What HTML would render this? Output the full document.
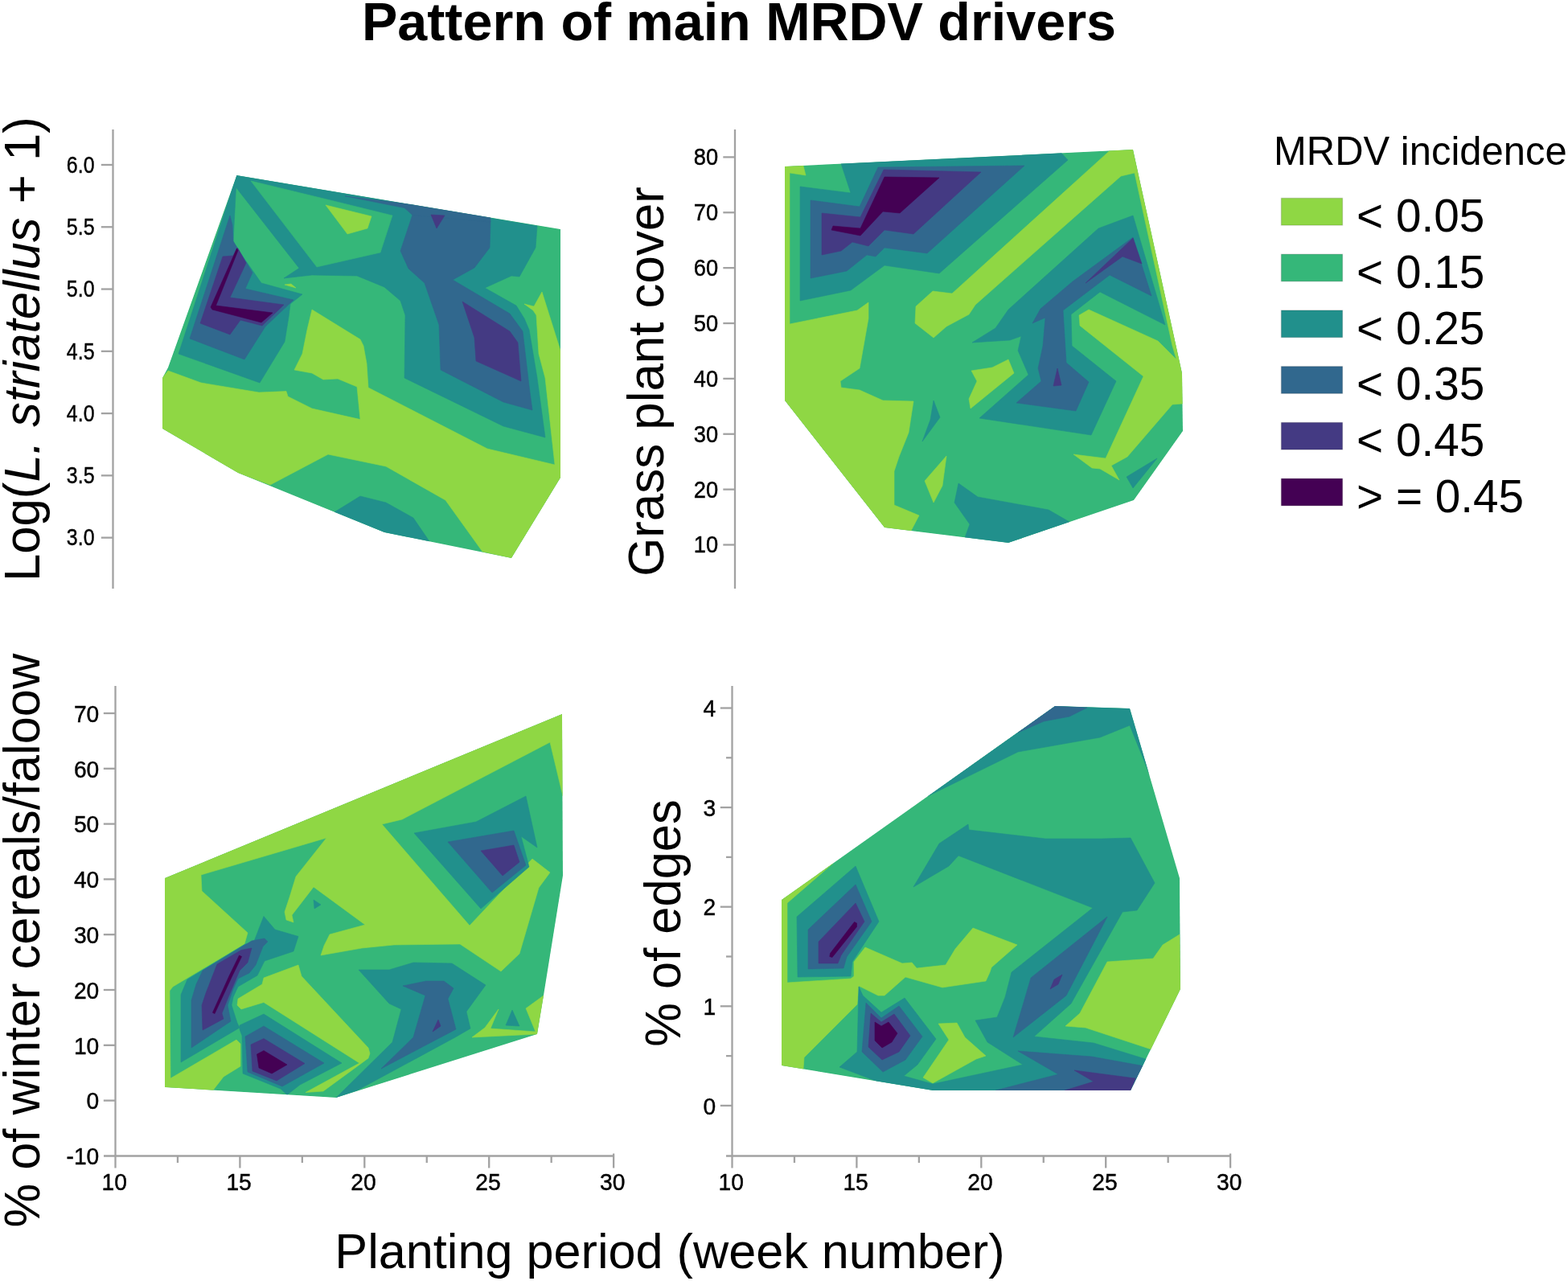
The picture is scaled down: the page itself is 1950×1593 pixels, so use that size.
<!DOCTYPE html>
<html lang="en"><head><meta charset="utf-8"><title>Pattern of main MRDV drivers</title>
<style>
html,body{margin:0;padding:0;background:#fff;}
body{width:1950px;height:1593px;overflow:hidden;}
svg{display:block;font-family:"Liberation Sans",Arial,Helvetica,sans-serif;}
.ax line{stroke:#a2a2a2;stroke-width:2.3;}
.tk{fill:#000;stroke:#000;stroke-width:0.45px;}
.lab{fill:#000;}
</style></head><body>
<svg width="1950" height="1593" viewBox="0 0 1950 1593">
<rect width="1950" height="1593" fill="#fff"/>
<text class="lab" font-size="67.3" font-weight="bold" text-anchor="middle" transform="translate(919,50.2) scale(0.988,1)">Pattern of main MRDV drivers</text>
<text class="lab" font-size="50.4" transform="translate(1584,204.6) scale(0.972,1)">MRDV incidence</text>
<rect x="1593.4" y="246.4" width="76.2" height="33.7" fill="#8fd744" stroke="#000" stroke-opacity="0.13" stroke-width="1.4"/>
<text class="lab" font-size="57.6" transform="translate(1687,288) scale(0.985,1)">&lt; 0.05</text>
<rect x="1593.4" y="316.15" width="76.2" height="33.7" fill="#35b779" stroke="#000" stroke-opacity="0.13" stroke-width="1.4"/>
<text class="lab" font-size="57.6" transform="translate(1687,357.75) scale(0.985,1)">&lt; 0.15</text>
<rect x="1593.4" y="385.9" width="76.2" height="33.7" fill="#21908c" stroke="#000" stroke-opacity="0.13" stroke-width="1.4"/>
<text class="lab" font-size="57.6" transform="translate(1687,427.5) scale(0.985,1)">&lt; 0.25</text>
<rect x="1593.4" y="455.65" width="76.2" height="33.7" fill="#31688e" stroke="#000" stroke-opacity="0.13" stroke-width="1.4"/>
<text class="lab" font-size="57.6" transform="translate(1687,497.25) scale(0.985,1)">&lt; 0.35</text>
<rect x="1593.4" y="525.4" width="76.2" height="33.7" fill="#443a83" stroke="#000" stroke-opacity="0.13" stroke-width="1.4"/>
<text class="lab" font-size="57.6" transform="translate(1687,567) scale(0.985,1)">&lt; 0.45</text>
<rect x="1593.4" y="595.15" width="76.2" height="33.7" fill="#440154" stroke="#000" stroke-opacity="0.13" stroke-width="1.4"/>
<text class="lab" font-size="57.6" transform="translate(1687,636.75) scale(0.985,1)">&gt; = 0.45</text>
<text class="lab" font-size="62.8" text-anchor="middle" transform="translate(49,434.1) rotate(-90) scale(0.983,1)">Log(<tspan font-style="italic">L. striatellus</tspan> + 1)</text>
<text class="lab" font-size="62.8" text-anchor="middle" transform="translate(825.3,474.5) rotate(-90) scale(0.985,1)">Grass plant cover</text>
<text class="lab" font-size="62.8" text-anchor="middle" transform="translate(49,1169.6) rotate(-90) scale(0.979,1)">% of winter cereals/faloow</text>
<text class="lab" font-size="62.8" text-anchor="middle" transform="translate(845.5,1148) rotate(-90) scale(0.979,1)">% of edges</text>
<text class="lab" x="833" y="1577" font-size="61.2" text-anchor="middle">Planting period (week number)</text>
<clipPath id="h0"><polygon points="294.4,218 697,285 697,594 636,694 478,662 296,588 202,533 202,470 209,457"/></clipPath>
<g clip-path="url(#h0)"><polygon fill="#35b779" points="294.4,218 697,285 697,594 636,694 478,662 296,588 202,533 202,470 209,457" stroke="#35b779" stroke-width="0.6" stroke-linejoin="round"/>
<polygon fill="#8fd744" points="202,470 209,461 250,476 322,488 356,486.6 358,493 388,508 448,521.6 444,481 420,471 402,472 388,464 366,460 376,440 382,410 388,385 448,422 452,430 456,452 458,482 606,558 690,578 678,470 670,440 667,392 663,386 652,378 664,381 674,363 697,436 697,594 636,694 600,686 554,622 480,580 408,565 336,603 296,588 202,533" stroke="#8fd744" stroke-width="0.6" stroke-linejoin="round"/>
<polygon fill="#8fd744" points="354,354 362,353 368,358" stroke="#8fd744" stroke-width="0.6" stroke-linejoin="round"/>
<polygon fill="#21908c" points="416,636.8 448,617 480,625 514,644 534,673.3 478,662" stroke="#21908c" stroke-width="0.6" stroke-linejoin="round"/>
<polygon fill="#21908c" points="294.4,218 668,281 666,308 646,344 636,343 603,358 642,380 652,396 658,410 668,470 678,544 626,530 503,470 504,392 498,374 478,357 444,343 388,342 353,346 372,333.5 293.5,233" stroke="#21908c" stroke-width="0.6" stroke-linejoin="round"/>
<polygon fill="#35b779" points="312,225 415,250 488,268 473,314 394,332" stroke="#35b779" stroke-width="0.6" stroke-linejoin="round"/>
<polygon fill="#8fd744" points="405,255 462,269 457,284 432,291" stroke="#8fd744" stroke-width="0.6" stroke-linejoin="round"/>
<polygon fill="#21908c" points="294.4,218 293.5,233 290,300 295,309 325,352 376,366 361,378 359,394 354,425 323,476 222,440" stroke="#21908c" stroke-width="0.6" stroke-linejoin="round"/>
<polygon fill="#31688e" points="513,267 610,275 609,308 590,333 563,348 634,390 650,412 658,480 662,510 626,500 548,460 546,404 528,352 508,334 498,312" stroke="#31688e" stroke-width="0.6" stroke-linejoin="round"/>
<polygon fill="#31688e" points="429,243.8 513,254.4 610,270.6 610,276 513,267.5 503,258.6" stroke="#31688e" stroke-width="0.6" stroke-linejoin="round"/>
<polygon fill="#443a83" points="536,267 553,268 543,284" stroke="#443a83" stroke-width="0.6" stroke-linejoin="round"/>
<polygon fill="#443a83" points="575,375 634,412 644,426 648,474 592,449 590,420" stroke="#443a83" stroke-width="0.6" stroke-linejoin="round"/>
<polygon fill="#31688e" points="286,268 236,421 304,447 330,406 365,373 305,359 314,339 295,308 290,300 289,280" stroke="#31688e" stroke-width="0.6" stroke-linejoin="round"/>
<polygon fill="#443a83" points="295,308 290,318 277,319 249,402 286,416 299,398 326,405 353,379 286,370 306,327 296,309" stroke="#443a83" stroke-width="0.6" stroke-linejoin="round"/>
<polygon fill="#440154" points="294.5,309 262,382 264,385 325,401 339,389 268.5,380 296,311.5" stroke="#440154" stroke-width="0.6" stroke-linejoin="round"/></g>
<clipPath id="h1"><polygon points="976,207 1409,186 1470,464 1471,536 1410,622 1254,675 1100,656 976,498"/></clipPath>
<g clip-path="url(#h1)"><polygon fill="#35b779" points="976,207 1409,186 1470,464 1471,536 1410,622 1254,675 1100,656 976,498" stroke="#35b779" stroke-width="0.6" stroke-linejoin="round"/>
<polygon fill="#8fd744" points="976,207 999,206 1002,218 982,215 982,403 1066,386 1080,376 1080,396 1074,430 1069,458 1045,474 1046,482 1069,485 1098,498 1136,499 1130,538 1118,568 1112,586 1112,628 1143,641 1133,660 1100,656 976,498" stroke="#8fd744" stroke-width="0.6" stroke-linejoin="round"/>
<polygon fill="#8fd744" points="1160,362 1184,365 1380,187.4 1409,186 1470,464 1471,502 1458,503 1402,568 1382,579 1392,597 1368,583 1358,582 1335,565 1375,570 1422,468 1343,405 1342,392 1354,385 1440,424 1463,447 1458,430 1411,215 1394,219 1213,379 1205,391 1177,406 1161,420 1138,402 1139,381" stroke="#8fd744" stroke-width="0.6" stroke-linejoin="round"/>
<polygon fill="#8fd744" points="1208,461 1234,457 1254,447 1261,464 1207,508 1205,496 1215,474" stroke="#8fd744" stroke-width="0.6" stroke-linejoin="round"/>
<polygon fill="#8fd744" points="1177,567 1172,604 1161,625 1150,598" stroke="#8fd744" stroke-width="0.6" stroke-linejoin="round"/>
<polygon fill="#21908c" points="1046,203.6 1320,190.3 1328,199 1168,340 1100,330 1058,361 995,374 995,232 1058,240" stroke="#21908c" stroke-width="0.6" stroke-linejoin="round"/>
<polygon fill="#31688e" points="1092,208 1274,206 1153,315 1100,308 1089,319 1078,317 1053,337 1008,346 1008,249 1069,257" stroke="#31688e" stroke-width="0.6" stroke-linejoin="round"/>
<polygon fill="#443a83" points="1099,211 1220,214 1136,291 1100,286 1080,306 1060,301 1046,312 1022,317 1022,265 1070,270" stroke="#443a83" stroke-width="0.6" stroke-linejoin="round"/>
<polygon fill="#440154" points="1100,220 1168,221 1119,265 1098,263 1070,293 1034,286 1036,281 1070,284" stroke="#440154" stroke-width="0.6" stroke-linejoin="round"/>
<polygon fill="#21908c" points="1409,268 1449,404 1368,363 1332,391 1333,430 1388,474 1357,541 1218,520 1279,466 1266,436 1270,418 1256,423 1209,426 1238,408 1254,385 1366,284" stroke="#21908c" stroke-width="0.6" stroke-linejoin="round"/>
<polygon fill="#31688e" points="1409,295 1432,368 1380,342 1322,386 1326,451 1354,475 1338,511 1264,501 1295,474 1291,458 1297,430 1300,395 1284,402 1294,384 1334,350" stroke="#31688e" stroke-width="0.6" stroke-linejoin="round"/>
<polygon fill="#443a83" points="1409,296 1420,328 1396,319 1350,352" stroke="#443a83" stroke-width="0.6" stroke-linejoin="round"/>
<polygon fill="#443a83" points="1315,458 1320,479 1310,480" stroke="#443a83" stroke-width="0.6" stroke-linejoin="round"/>
<polygon fill="#21908c" points="1192,601 1216,618 1304,634 1330,649 1254,675 1200,668.3 1206,652 1187,625" stroke="#21908c" stroke-width="0.6" stroke-linejoin="round"/>
<polygon fill="#21908c" points="1161,498 1169,519 1147,549 1157,522" stroke="#21908c" stroke-width="0.6" stroke-linejoin="round"/>
<polygon fill="#21908c" points="1439,570 1409,607 1401,593" stroke="#21908c" stroke-width="0.6" stroke-linejoin="round"/></g>
<clipPath id="h2"><polygon points="205,1092 699,888 700,1089 676,1238 668,1286 418,1365 205,1352"/></clipPath>
<g clip-path="url(#h2)"><polygon fill="#35b779" points="205,1092 699,888 700,1089 676,1238 668,1286 418,1365 205,1352" stroke="#35b779" stroke-width="0.6" stroke-linejoin="round"/>
<polygon fill="#8fd744" points="205,1352 205,1092 699,888 700,990 684,923 500,1019 475,1025 584,1151 662,1068 684,1085 670,1104 646,1186 623,1208 572,1174 490,1175 450,1179 399,1188 403,1176 410,1162 454,1150 390,1103 363,1138 365,1147 356,1144 354,1134 360,1116 368,1090 406,1042 250,1088 251,1108 308,1160 304,1174 215,1227 211,1232 212,1341 294,1293 299,1298 299,1326 278,1339 265,1355.7" stroke="#8fd744" stroke-width="0.6" stroke-linejoin="round"/>
<polygon fill="#8fd744" points="328,1216 371,1200 375,1214 458,1303 460,1310 458,1316 402,1357 380,1358.5 447,1322 328,1246.5 300,1255 295,1250 296,1242 326,1224" stroke="#8fd744" stroke-width="0.6" stroke-linejoin="round"/>
<polygon fill="#8fd744" points="676,1238 654,1254 666,1283 610,1279 620,1255 603,1278 587,1290 668,1286" stroke="#8fd744" stroke-width="0.6" stroke-linejoin="round"/>
<polygon fill="#21908c" points="328,1139.5 315,1173 305,1174 233,1218 225,1237 225,1321 298,1278 295,1272 288,1250 290,1240 296,1227 320,1213 329,1195 365,1183 371,1164.5 342,1156" stroke="#21908c" stroke-width="0.6" stroke-linejoin="round"/>
<polygon fill="#31688e" points="329,1167 333,1171 327,1177 318,1200 310,1210 296,1217 290,1230 283,1250 287,1270 238,1303 238,1244 244,1224 252,1207 313,1170" stroke="#31688e" stroke-width="0.6" stroke-linejoin="round"/>
<polygon fill="#443a83" points="313,1179 308,1197 298,1207 284,1240 276,1260 278,1267 252,1281 251,1250 256,1235 270,1199 300,1181.5" stroke="#443a83" stroke-width="0.6" stroke-linejoin="round"/>
<polygon fill="#440154" points="297.5,1188 300.6,1189.6 288.2,1215 267,1260.6 264.4,1259.2 284.8,1214" stroke="#440154" stroke-width="0.6" stroke-linejoin="round"/>
<polygon fill="#21908c" points="298,1275 328,1261 425,1322 373,1349 357,1361.5 349,1354 302,1335 301,1288 298,1280" stroke="#21908c" stroke-width="0.6" stroke-linejoin="round"/>
<polygon fill="#31688e" points="328,1276 403,1322 351,1351 308,1333 305,1289" stroke="#31688e" stroke-width="0.6" stroke-linejoin="round"/>
<polygon fill="#443a83" points="328,1291.5 379,1322.5 344,1344 314,1332 312,1299" stroke="#443a83" stroke-width="0.6" stroke-linejoin="round"/>
<polygon fill="#440154" points="328,1306.5 357,1324 338,1335 322,1328 319.5,1311" stroke="#440154" stroke-width="0.6" stroke-linejoin="round"/>
<polygon fill="#21908c" points="446,1206 484,1206 514,1197 562,1198 604,1225 580,1258 585,1279 566,1290 444,1356 418,1365 488,1296 499,1255 484,1248" stroke="#21908c" stroke-width="0.6" stroke-linejoin="round"/>
<polygon fill="#31688e" points="501,1226 530,1220 552,1220 564,1229 557,1242 567,1280 474,1329 514,1290 529,1238" stroke="#31688e" stroke-width="0.6" stroke-linejoin="round"/>
<polygon fill="#443a83" points="545,1268 548,1276 538,1283" stroke="#443a83" stroke-width="0.6" stroke-linejoin="round"/>
<polygon fill="#21908c" points="515,1036 592,1022 654,990 668,1054 648,1040 658,1078 598,1130" stroke="#21908c" stroke-width="0.6" stroke-linejoin="round"/>
<polygon fill="#31688e" points="557,1047 639,1033 654,1076 612,1110" stroke="#31688e" stroke-width="0.6" stroke-linejoin="round"/>
<polygon fill="#443a83" points="598,1058 639,1051 646,1072 625,1089" stroke="#443a83" stroke-width="0.6" stroke-linejoin="round"/>
<polygon fill="#21908c" points="390,1119 399,1125 391,1130" stroke="#21908c" stroke-width="0.6" stroke-linejoin="round"/>
<polygon fill="#21908c" points="637,1256 646,1276 629,1275" stroke="#21908c" stroke-width="0.6" stroke-linejoin="round"/></g>
<clipPath id="h3"><polygon points="972,1119 1312,878 1405,881 1467,1092 1468,1230 1406,1356 1160,1356 972,1325"/></clipPath>
<g clip-path="url(#h3)"><polygon fill="#35b779" points="972,1119 1312,878 1405,881 1467,1092 1468,1230 1406,1356 1160,1356 972,1325" stroke="#35b779" stroke-width="0.6" stroke-linejoin="round"/>
<polygon fill="#8fd744" points="972,1119 1036,1073.6 979,1123 979,1222 1058,1217 1062,1214 1062,1196 1076,1178 1122,1198 1134,1197 1140,1204 1176,1200 1188,1180 1210,1154 1265,1175 1233,1203 1231,1209 1226,1220 1172,1228 1126,1215 1100,1238 1092,1238 1068,1226 1066,1249 1000,1315 999,1329.5 972,1325" stroke="#8fd744" stroke-width="0.6" stroke-linejoin="round"/>
<polygon fill="#8fd744" points="1167,1273 1190,1272 1200,1290 1226,1313 1214,1317 1160,1347 1148,1340 1180,1293" stroke="#8fd744" stroke-width="0.6" stroke-linejoin="round"/>
<polygon fill="#8fd744" points="1467,1162 1446,1175 1434,1192 1377,1196 1343,1260 1325,1276 1350,1278 1432,1305 1468,1230" stroke="#8fd744" stroke-width="0.6" stroke-linejoin="round"/>
<polygon fill="#21908c" points="1154,990 1312,878 1405,881 1430,964 1405,902 1368,917 1266,935" stroke="#21908c" stroke-width="0.6" stroke-linejoin="round"/>
<polygon fill="#31688e" points="1312,878 1352,880 1330,891 1298,897 1266,911" stroke="#31688e" stroke-width="0.6" stroke-linejoin="round"/>
<polygon fill="#21908c" points="1136,1103 1168,1049 1204,1025 1205,1032 1300,1043 1370,1043 1406,1042 1436,1098 1414,1132 1396,1134 1332,1248 1286,1289 1360,1297 1428,1318 1406,1356 1160,1356 1160,1348 1272,1324 1228,1296 1213,1269 1240,1265 1250,1240 1258,1209 1359,1129 1192,1064 1180,1077" stroke="#21908c" stroke-width="0.6" stroke-linejoin="round"/>
<polygon fill="#31688e" points="1377,1140 1326,1238 1260,1290 1272,1250 1282,1216" stroke="#31688e" stroke-width="0.6" stroke-linejoin="round"/>
<polygon fill="#443a83" points="1321,1212 1316,1224 1306,1230 1311,1218" stroke="#443a83" stroke-width="0.6" stroke-linejoin="round"/>
<polygon fill="#31688e" points="1266,1307 1358,1314 1424,1326 1406,1356 1238,1356 1316,1336" stroke="#31688e" stroke-width="0.6" stroke-linejoin="round"/>
<polygon fill="#443a83" points="1336,1331 1412,1341 1406,1356 1324,1356 1360,1345" stroke="#443a83" stroke-width="0.6" stroke-linejoin="round"/>
<polygon fill="#21908c" points="1064,1077 1093,1146 1060,1196 1058,1214 992,1215 991,1140" stroke="#21908c" stroke-width="0.6" stroke-linejoin="round"/>
<polygon fill="#31688e" points="1064,1100 1084,1146 1053,1190 1049,1204 1005,1205 1005,1156" stroke="#31688e" stroke-width="0.6" stroke-linejoin="round"/>
<polygon fill="#443a83" points="1064,1123 1075,1146 1046,1188 1042,1198 1018,1198 1018,1171" stroke="#443a83" stroke-width="0.6" stroke-linejoin="round"/>
<polygon fill="#440154" points="1062.5,1146.5 1065.5,1148 1065.5,1152.5 1035,1190.5 1031.8,1189.6 1032.5,1185.5" stroke="#440154" stroke-width="0.6" stroke-linejoin="round"/>
<polygon fill="#21908c" points="1068,1227 1073,1238 1096,1259 1125,1241 1164,1292 1141,1324 1124,1338 1160,1348 1160,1356 1090,1344.4 1044,1327 1066,1308" stroke="#21908c" stroke-width="0.6" stroke-linejoin="round"/>
<polygon fill="#31688e" points="1077,1247 1096,1266 1118,1251 1147,1289 1126,1318 1098,1333 1072,1308" stroke="#31688e" stroke-width="0.6" stroke-linejoin="round"/>
<polygon fill="#443a83" points="1083,1260 1096,1271 1112,1261 1132,1288 1118,1308 1097,1318 1080,1302" stroke="#443a83" stroke-width="0.6" stroke-linejoin="round"/>
<polygon fill="#440154" points="1088,1271 1096,1276 1105,1271 1116,1285 1109,1296 1097,1303 1088,1294" stroke="#440154" stroke-width="0.6" stroke-linejoin="round"/></g>
<g class="ax"><line x1="140.5" y1="161" x2="140.5" y2="732"/></g>
<g class="ax"><line x1="125.8" y1="205.0" x2="140.5" y2="205.0"/><line x1="125.8" y1="282.27" x2="140.5" y2="282.27"/><line x1="125.8" y1="359.53999999999996" x2="140.5" y2="359.53999999999996"/><line x1="125.8" y1="436.81" x2="140.5" y2="436.81"/><line x1="125.8" y1="514.0799999999999" x2="140.5" y2="514.0799999999999"/><line x1="125.8" y1="591.3499999999999" x2="140.5" y2="591.3499999999999"/><line x1="125.8" y1="668.62" x2="140.5" y2="668.62"/></g><text class="tk" font-size="29" text-anchor="end" transform="translate(117.5,214.8) scale(0.86,1)">6.0</text><text class="tk" font-size="29" text-anchor="end" transform="translate(117.5,292.07) scale(0.86,1)">5.5</text><text class="tk" font-size="29" text-anchor="end" transform="translate(117.5,369.34) scale(0.86,1)">5.0</text><text class="tk" font-size="29" text-anchor="end" transform="translate(117.5,446.61) scale(0.86,1)">4.5</text><text class="tk" font-size="29" text-anchor="end" transform="translate(117.5,523.88) scale(0.86,1)">4.0</text><text class="tk" font-size="29" text-anchor="end" transform="translate(117.5,601.15) scale(0.86,1)">3.5</text><text class="tk" font-size="29" text-anchor="end" transform="translate(117.5,678.42) scale(0.86,1)">3.0</text>
<g class="ax"><line x1="914" y1="161" x2="914" y2="732"/></g>
<g class="ax"><line x1="899.3" y1="195.4" x2="914" y2="195.4"/><line x1="899.3" y1="264.27" x2="914" y2="264.27"/><line x1="899.3" y1="333.14" x2="914" y2="333.14"/><line x1="899.3" y1="402.01" x2="914" y2="402.01"/><line x1="899.3" y1="470.88" x2="914" y2="470.88"/><line x1="899.3" y1="539.75" x2="914" y2="539.75"/><line x1="899.3" y1="608.62" x2="914" y2="608.62"/><line x1="899.3" y1="677.49" x2="914" y2="677.49"/></g><text class="tk" font-size="29" text-anchor="end" transform="translate(893.0999999999999,205.3) scale(0.94,1)">80</text><text class="tk" font-size="29" text-anchor="end" transform="translate(893.0999999999999,274.17) scale(0.94,1)">70</text><text class="tk" font-size="29" text-anchor="end" transform="translate(893.0999999999999,343.04) scale(0.94,1)">60</text><text class="tk" font-size="29" text-anchor="end" transform="translate(893.0999999999999,411.91) scale(0.94,1)">50</text><text class="tk" font-size="29" text-anchor="end" transform="translate(893.0999999999999,480.78) scale(0.94,1)">40</text><text class="tk" font-size="29" text-anchor="end" transform="translate(893.0999999999999,549.65) scale(0.94,1)">30</text><text class="tk" font-size="29" text-anchor="end" transform="translate(893.0999999999999,618.52) scale(0.94,1)">20</text><text class="tk" font-size="29" text-anchor="end" transform="translate(893.0999999999999,687.39) scale(0.94,1)">10</text>
<g class="ax"><line x1="143.5" y1="853" x2="143.5" y2="1452.5"/><line x1="129" y1="1437.5" x2="764" y2="1437.5"/></g>
<g class="ax"><line x1="128.8" y1="887.0" x2="143.5" y2="887.0"/><line x1="128.8" y1="955.8" x2="143.5" y2="955.8"/><line x1="128.8" y1="1024.6" x2="143.5" y2="1024.6"/><line x1="128.8" y1="1093.4" x2="143.5" y2="1093.4"/><line x1="128.8" y1="1162.2" x2="143.5" y2="1162.2"/><line x1="128.8" y1="1231.0" x2="143.5" y2="1231.0"/><line x1="128.8" y1="1299.8" x2="143.5" y2="1299.8"/><line x1="128.8" y1="1368.6" x2="143.5" y2="1368.6"/></g><text class="tk" font-size="30" text-anchor="end" transform="translate(123.30000000000001,897.7) scale(0.94,1)">70</text><text class="tk" font-size="30" text-anchor="end" transform="translate(123.30000000000001,966.5) scale(0.94,1)">60</text><text class="tk" font-size="30" text-anchor="end" transform="translate(123.30000000000001,1035.3) scale(0.94,1)">50</text><text class="tk" font-size="30" text-anchor="end" transform="translate(123.30000000000001,1104.1) scale(0.94,1)">40</text><text class="tk" font-size="30" text-anchor="end" transform="translate(123.30000000000001,1172.9) scale(0.94,1)">30</text><text class="tk" font-size="30" text-anchor="end" transform="translate(123.30000000000001,1241.7) scale(0.94,1)">20</text><text class="tk" font-size="30" text-anchor="end" transform="translate(123.30000000000001,1310.5) scale(0.94,1)">10</text><text class="tk" font-size="30" text-anchor="end" transform="translate(123.30000000000001,1379.3) scale(0.94,1)">0</text>
<text class="tk" font-size="30" text-anchor="end" transform="translate(123.3,1448.2) scale(0.94,1)">-10</text>
<g class="ax"><line x1="910.5" y1="853" x2="910.5" y2="1452.5"/><line x1="903" y1="1437.5" x2="1531" y2="1437.5"/></g>
<g class="ax"><line x1="895.8" y1="880.5" x2="910.5" y2="880.5"/><line x1="895.8" y1="1004.1" x2="910.5" y2="1004.1"/><line x1="895.8" y1="1127.7" x2="910.5" y2="1127.7"/><line x1="895.8" y1="1251.3" x2="910.5" y2="1251.3"/><line x1="895.8" y1="1374.9" x2="910.5" y2="1374.9"/></g><text class="tk" font-size="30" text-anchor="end" transform="translate(890.3,891.2) scale(0.94,1)">4</text><text class="tk" font-size="30" text-anchor="end" transform="translate(890.3,1014.8) scale(0.94,1)">3</text><text class="tk" font-size="30" text-anchor="end" transform="translate(890.3,1138.4) scale(0.94,1)">2</text><text class="tk" font-size="30" text-anchor="end" transform="translate(890.3,1262) scale(0.94,1)">1</text><text class="tk" font-size="30" text-anchor="end" transform="translate(890.3,1385.6) scale(0.94,1)">0</text>
<g class="ax"><line x1="903" y1="942.3" x2="910.5" y2="942.3"/><line x1="903" y1="1065.9" x2="910.5" y2="1065.9"/><line x1="903" y1="1189.5" x2="910.5" y2="1189.5"/><line x1="903" y1="1313.1" x2="910.5" y2="1313.1"/></g>
<g class="ax"><line x1="220.95" y1="1437.5" x2="220.95" y2="1446"/><line x1="298.4" y1="1437.5" x2="298.4" y2="1452.5"/><line x1="375.85" y1="1437.5" x2="375.85" y2="1446"/><line x1="453.3" y1="1437.5" x2="453.3" y2="1452.5"/><line x1="530.75" y1="1437.5" x2="530.75" y2="1446"/><line x1="608.2" y1="1437.5" x2="608.2" y2="1452.5"/><line x1="685.65" y1="1437.5" x2="685.65" y2="1446"/><line x1="763.1" y1="1434.5" x2="763.1" y2="1452.5"/></g>
<text class="tk" font-size="30" text-anchor="middle" transform="translate(142.2,1480) scale(0.94,1)">10</text>
<text class="tk" font-size="30" text-anchor="middle" transform="translate(297.1,1480) scale(0.94,1)">15</text>
<text class="tk" font-size="30" text-anchor="middle" transform="translate(452,1480) scale(0.94,1)">20</text>
<text class="tk" font-size="30" text-anchor="middle" transform="translate(606.9,1480) scale(0.94,1)">25</text>
<text class="tk" font-size="30" text-anchor="middle" transform="translate(761.8,1480) scale(0.94,1)">30</text>
<g class="ax"><line x1="987.95" y1="1437.5" x2="987.95" y2="1446"/><line x1="1065.4" y1="1437.5" x2="1065.4" y2="1452.5"/><line x1="1142.85" y1="1437.5" x2="1142.85" y2="1446"/><line x1="1220.3" y1="1437.5" x2="1220.3" y2="1452.5"/><line x1="1297.75" y1="1437.5" x2="1297.75" y2="1446"/><line x1="1375.2" y1="1437.5" x2="1375.2" y2="1452.5"/><line x1="1452.65" y1="1437.5" x2="1452.65" y2="1446"/><line x1="1530.1" y1="1434.5" x2="1530.1" y2="1452.5"/></g>
<text class="tk" font-size="30" text-anchor="middle" transform="translate(909.2,1480) scale(0.94,1)">10</text>
<text class="tk" font-size="30" text-anchor="middle" transform="translate(1064.1,1480) scale(0.94,1)">15</text>
<text class="tk" font-size="30" text-anchor="middle" transform="translate(1219,1480) scale(0.94,1)">20</text>
<text class="tk" font-size="30" text-anchor="middle" transform="translate(1373.9,1480) scale(0.94,1)">25</text>
<text class="tk" font-size="30" text-anchor="middle" transform="translate(1528.8,1480) scale(0.94,1)">30</text>
</svg></body></html>
